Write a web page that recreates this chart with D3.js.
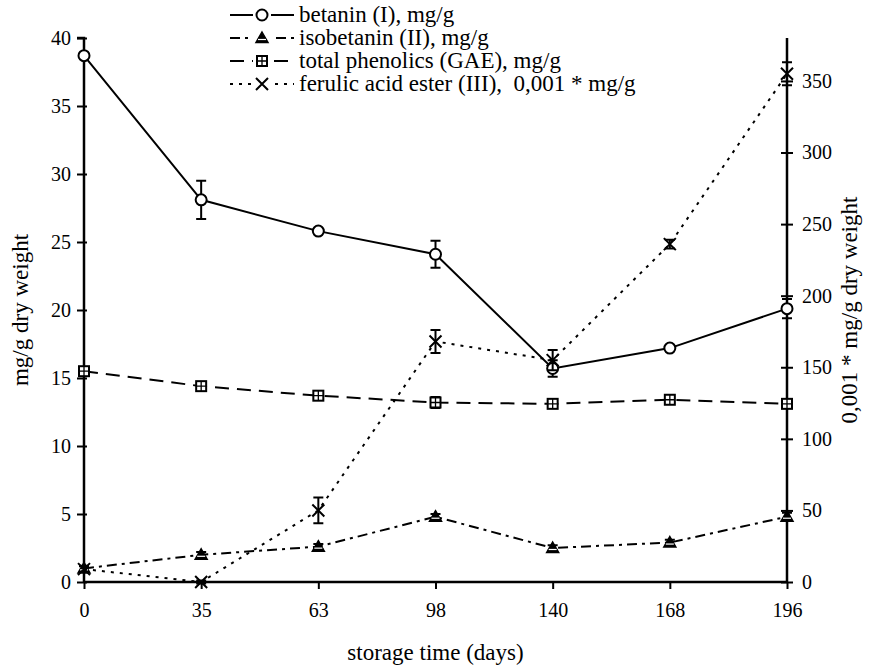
<!DOCTYPE html>
<html>
<head>
<meta charset="utf-8">
<script src="https://cdn.jsdelivr.net/npm/d3@7"></script>
<style>
  body { margin: 0; background: #fff; }
</style>
</head>
<body>
<div id="chart"></div>
<script>
const days = ["0", "35", "63", "98", "140", "168", "196"];

const betanin = [38.7, 28.1, 25.8, 24.1, 15.7, 17.2, 20.1];
const betaninErr = [0.2, 1.4, 0.2, 1.0, 0.6, 0.2, 0.7];
const isobetanin = [1.0, 2.0, 2.6, 4.8, 2.5, 2.9, 4.8];
const isobetaninErr = [0.2, 0.2, 0.2, 0.2, 0.2, 0.2, 0.3];
const phenolics = [15.5, 14.4, 13.7, 13.2, 13.1, 13.4, 13.1];
const phenolicsErr = [0.2, 0.3, 0.3, 0.4, 0.3, 0.2, 0.3];
const ferulic = [9, 0, 50, 168, 155, 236, 355];
const ferulicErr = [2, 1, 9, 8, 7, 3, 8];

const leftTicks = [0, 5, 10, 15, 20, 25, 30, 35, 40];
const rightTicks = [0, 50, 100, 150, 200, 250, 300, 350];

const series = [
  {name: "betanin (I), mg/g", values: betanin, err: betaninErr, axis: "left", dash: null, marker: "circle"},
  {name: "isobetanin (II), mg/g", values: isobetanin, err: isobetaninErr, axis: "left", dash: "10,5,3,5", marker: "triangle"},
  {name: "total phenolics (GAE), mg/g", values: phenolics, err: phenolicsErr, axis: "left", dash: "14,8", marker: "square"},
  {name: "ferulic acid ester (III),  0,001 * mg/g", values: ferulic, err: ferulicErr, axis: "right", dash: "3,6", marker: "cross"}
];

const serif = "Liberation Serif";
const width = 869, height = 669;
const margin = {top: 38, right: 82, bottom: 87, left: 84};

const svg = d3.select("#chart").append("svg")
  .attr("width", width)
  .attr("height", height);

const x = d3.scalePoint()
  .domain(days)
  .range([margin.left, width - margin.right]);

const yLeft = d3.scaleLinear()
  .domain([0, 40])
  .range([height - margin.bottom, margin.top]);

const yRight = d3.scaleLinear()
  .domain([0, 380])
  .range([height - margin.bottom, margin.top]);

const drawMarker = (g, type, cx, cy) => {
  if (type === "circle") {
    g.append("circle").attr("cx", cx).attr("cy", cy).attr("r", 5.5)
      .attr("fill", "#fff").attr("stroke", "#000").attr("stroke-width", 2);
  } else if (type === "triangle") {
    g.append("path")
      .attr("d", `M${cx},${cy - 6}L${cx + 6},${cy + 4.5}L${cx - 6},${cy + 4.5}Z`)
      .attr("fill", "#000").attr("stroke", "#000").attr("stroke-width", 1.5);
    g.append("line").attr("x1", cx - 4).attr("x2", cx + 4).attr("y1", cy + 1.5).attr("y2", cy + 1.5)
      .attr("stroke", "#fff").attr("stroke-width", 1.2);
  } else if (type === "square") {
    g.append("rect").attr("x", cx - 5).attr("y", cy - 5).attr("width", 10).attr("height", 10)
      .attr("fill", "#fff").attr("stroke", "#000").attr("stroke-width", 2);
    g.append("path").attr("d", `M${cx - 5},${cy}H${cx + 5}M${cx},${cy - 5}V${cy + 5}`)
      .attr("stroke", "#000").attr("stroke-width", 1.3);
  } else {
    g.append("path").attr("d", `M${cx - 6},${cy - 6}L${cx + 6},${cy + 6}M${cx + 6},${cy - 6}L${cx - 6},${cy + 6}`)
      .attr("stroke", "#000").attr("stroke-width", 2);
  }
};

// axes
const xAxis = d3.axisBottom(x).tickSize(7).tickPadding(14);
const leftAxis = d3.axisLeft(yLeft).tickValues(leftTicks).tickSize(7).tickPadding(6);
const rightAxis = d3.axisRight(yRight).tickValues(rightTicks).tickSize(7).tickPadding(8);

const gx = svg.append("g")
  .attr("transform", "translate(0," + (height - margin.bottom) + ")")
  .call(xAxis);

const gl = svg.append("g")
  .attr("transform", "translate(" + margin.left + ",0)")
  .call(leftAxis);

const gr = svg.append("g")
  .attr("transform", "translate(" + (width - margin.right) + ",0)")
  .call(rightAxis);

[gx, gl, gr].forEach(g => {
  g.select(".domain").attr("stroke", "#000").attr("stroke-width", 2.5);
  g.selectAll(".tick line").attr("stroke", "#000").attr("stroke-width", 2);
  g.selectAll(".tick text")
    .attr("fill", "#000")
    .attr("font-family", serif)
    .attr("font-size", 20);
});
gl.select(".domain").attr("d", `M0,${height - margin.bottom}V${margin.top}H-7`);
gr.select(".domain").attr("d", `M0,${height - margin.bottom}V${margin.top}`);
gl.selectAll(".tick line").attr("x1", 3);
gr.selectAll(".tick line").attr("x1", -6).attr("x2", 6);
gx.select(".domain").attr("d", `M${margin.left},0H${width - margin.right}`);

const addText = (sel, size) => sel
  .attr("font-family", serif)
  .attr("font-size", size)
  .attr("fill", "#000");

// axis titles
svg.append("text")
  .attr("transform", "translate(28," + (height - margin.bottom + margin.top) / 2 + ") rotate(-90)")
  .attr("text-anchor", "middle")
  .call(addText, 23)
  .text("mg/g dry weight");

svg.append("text")
  .attr("transform", "translate(857," + (height - margin.bottom + margin.top) / 2 + ") rotate(-90)")
  .attr("text-anchor", "middle")
  .call(addText, 23)
  .text("0,001 * mg/g dry weight");

svg.append("text")
  .attr("x", (margin.left + width - margin.right) / 2)
  .attr("y", 660)
  .attr("text-anchor", "middle")
  .call(addText, 23)
  .text("storage time (days)");

// lines, error bars, markers
series.forEach(s => {
  const y = s.axis === "left" ? yLeft : yRight;
  const line = d3.line()
    .x((d, i) => x(days[i]))
    .y(d => y(d));

  const g = svg.append("g");

  g.append("path")
    .datum(s.values)
    .attr("d", line)
    .attr("fill", "none")
    .attr("stroke", "#000")
    .attr("stroke-width", 2)
    .attr("stroke-dasharray", s.dash);

  s.values.forEach((v, i) => {
    const cx = x(days[i]);
    const top = y(v + s.err[i]), bot = y(v - s.err[i]);
    g.append("path")
      .attr("d", `M${cx},${top}V${bot}M${cx - 5},${top}H${cx + 5}M${cx - 5},${bot}H${cx + 5}`)
      .attr("stroke", "#000")
      .attr("stroke-width", 2)
      .attr("fill", "none");
    drawMarker(g, s.marker, cx, y(v));
  });
});

// legend
const legend = svg.append("g")
  .selectAll("g")
  .data(series)
  .enter().append("g")
  .attr("transform", (d, i) => "translate(230," + (15 + i * 23) + ")");

legend.append("line")
  .attr("x1", 0).attr("x2", 64)
  .attr("stroke", "#000")
  .attr("stroke-width", 2)
  .attr("stroke-dasharray", d => d.dash);

legend.each(function(d) {
  const g = d3.select(this);
  g.append("rect").attr("x", 23).attr("y", -8).attr("width", 18).attr("height", 16).attr("fill", "#fff");
  drawMarker(g, d.marker, 32, 0);
});

legend.append("text")
  .attr("x", 69)
  .attr("y", 7)
  .style("white-space", "pre")
  .call(addText, 23)
  .text(d => d.name);
</script>
</body>
</html>
